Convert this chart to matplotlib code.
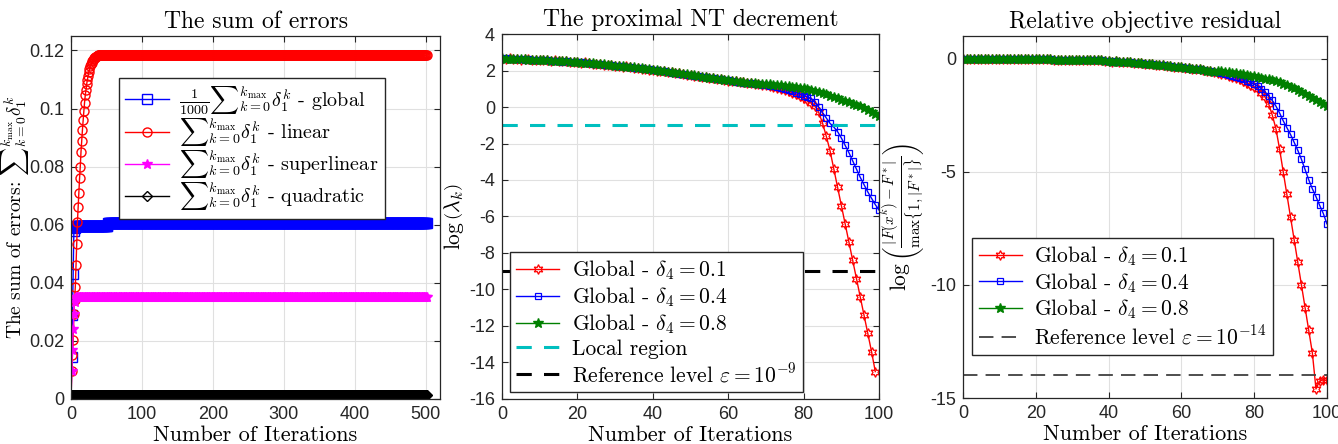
import numpy as np
import matplotlib
matplotlib.use('Agg')
import matplotlib.pyplot as plt

plt.rcParams['font.family'] = 'serif'
plt.rcParams['font.serif'] = ['cmr10']
plt.rcParams['mathtext.fontset'] = 'cm'
plt.rcParams['axes.unicode_minus'] = False
plt.rcParams['axes.formatter.use_mathtext'] = True

tick_font = 'Liberation Sans'

# ---------------- panel 1: sum of errors ----------------
n_iter1 = 502
global_rise = [0.0, 0.0145, 0.029, 0.043, 0.058, 0.0590, 0.0593]
global_mid, global_end, global_step_at = 0.0595, 0.0605, 52
linear_rise = [0.0, 0.0098, 0.0150, 0.0202, 0.0294, 0.0340, 0.0386, 0.0460, 0.0532,
               0.0610, 0.0660, 0.0708, 0.0760, 0.0800, 0.0850, 0.0890, 0.0925, 0.0960,
               0.0990, 0.1020, 0.1045, 0.1065, 0.1083, 0.1100, 0.1113, 0.1125, 0.1136,
               0.1145, 0.1152, 0.1158, 0.1163, 0.1168, 0.1172, 0.1175, 0.1177, 0.1179,
               0.1181, 0.1182]
linear_end = 0.1183
superlin_rise = [0.0, 0.0098, 0.0167, 0.0242, 0.0294, 0.0334, 0.0348]
superlin_end = 0.0352
quad_rise = [0.0, 0.0015]
quad_end = 0.0015

p1_xticks = [0, 100, 200, 300, 400, 500]
p1_yticks = [0, 0.02, 0.04, 0.06, 0.08, 0.1, 0.12]
p1_ylabels = ['0', '0.02', '0.04', '0.06', '0.08', '0.1', '0.12']

global_sum = (global_rise + [global_mid] * (global_step_at - len(global_rise))
              + [global_end] * (n_iter1 - global_step_at))
linear_sum = linear_rise + [linear_end] * (n_iter1 - len(linear_rise))
superlin_sum = superlin_rise + [superlin_end] * (n_iter1 - len(superlin_rise))
quad_sum = quad_rise + [quad_end] * (n_iter1 - len(quad_rise))

# ---------------- panel 2: proximal NT decrement ----------------
dec_01 = [2.65, 2.63, 2.66, 2.62, 2.64, 2.60, 2.63, 2.61, 2.58, 2.60,
          2.56, 2.58, 2.55, 2.53, 2.56, 2.52, 2.50, 2.52, 2.48, 2.46,
          2.45, 2.42, 2.44, 2.40, 2.37, 2.38, 2.34, 2.31, 2.32, 2.28,
          2.26, 2.24, 2.21, 2.22, 2.18, 2.15, 2.13, 2.10, 2.08, 2.05,
          2.03, 2.00, 1.98, 1.95, 1.92, 1.90, 1.86, 1.84, 1.80, 1.78,
          1.75, 1.72, 1.69, 1.66, 1.63, 1.60, 1.57, 1.54, 1.51, 1.48,
          1.45, 1.42, 1.40, 1.37, 1.35, 1.32, 1.30, 1.27, 1.25, 1.22,
          1.20, 1.15, 1.10, 1.05, 0.99, 0.93, 0.86, 0.78, 0.70, 0.60,
          0.48, 0.36, 0.22, 0.05, -0.30, -0.88, -1.6, -2.4, -3.4, -4.4,
          -5.4, -6.4, -7.4, -8.4, -9.4, -10.4, -11.4, -12.4, -13.4, -14.5]
dec_04 = [2.64, 2.66, 2.62, 2.65, 2.61, 2.63, 2.60, 2.62, 2.59, 2.57,
          2.58, 2.55, 2.57, 2.54, 2.51, 2.53, 2.49, 2.50, 2.47, 2.48,
          2.44, 2.45, 2.41, 2.42, 2.38, 2.36, 2.35, 2.32, 2.30, 2.29,
          2.25, 2.25, 2.22, 2.20, 2.19, 2.16, 2.12, 2.11, 2.07, 2.06,
          2.02, 2.01, 1.97, 1.96, 1.93, 1.89, 1.88, 1.83, 1.81, 1.77,
          1.76, 1.71, 1.70, 1.65, 1.64, 1.59, 1.58, 1.53, 1.52, 1.47,
          1.46, 1.43, 1.39, 1.38, 1.34, 1.33, 1.29, 1.28, 1.24, 1.23,
          1.21, 1.17, 1.13, 1.08, 1.03, 0.98, 0.92, 0.86, 0.79, 0.71,
          0.62, 0.55, 0.47, 0.25, 0.0, -0.30, -0.60, -0.90, -1.10, -1.35,
          -1.70, -2.10, -2.50, -2.95, -3.40, -3.85, -4.25, -4.65, -5.0, -5.35,
          -5.65]
dec_08 = [2.66, 2.64, 2.63, 2.64, 2.62, 2.61, 2.62, 2.60, 2.60, 2.58,
          2.57, 2.56, 2.56, 2.54, 2.53, 2.52, 2.51, 2.50, 2.49, 2.47,
          2.46, 2.43, 2.43, 2.41, 2.39, 2.37, 2.36, 2.33, 2.31, 2.30,
          2.27, 2.25, 2.23, 2.21, 2.19, 2.17, 2.14, 2.12, 2.09, 2.07,
          2.04, 2.02, 1.99, 1.97, 1.94, 1.91, 1.89, 1.85, 1.82, 1.79,
          1.77, 1.73, 1.71, 1.67, 1.65, 1.61, 1.59, 1.55, 1.53, 1.49,
          1.47, 1.44, 1.41, 1.39, 1.36, 1.34, 1.31, 1.30, 1.27, 1.26,
          1.25, 1.24, 1.22, 1.20, 1.18, 1.16, 1.13, 1.10, 1.08, 1.05,
          1.02, 0.97, 0.92, 0.86, 0.81, 0.76, 0.69, 0.62, 0.55, 0.47,
          0.40, 0.33, 0.26, 0.18, 0.10, 0.03, -0.08, -0.19, -0.30, -0.41,
          -0.52]
local_region = -1
ref_level2 = -9

p2_xticks = [0, 20, 40, 60, 80, 100]
p2_yticks = [-16, -14, -12, -10, -8, -6, -4, -2, 0, 2, 4]

# ---------------- panel 3: relative objective residual ----------------
res_common = [-0.02, 0.0, -0.01, -0.03, 0.0, -0.02, -0.01, 0.0, -0.02, -0.01,
              -0.01, -0.03, -0.02, 0.0, -0.01, -0.02, 0.0, -0.01, -0.03, -0.02,
              -0.01, -0.02, -0.01, -0.03, -0.02, -0.05, -0.06, -0.05, -0.07, -0.06,
              -0.06, -0.07, -0.08, -0.07, -0.06, -0.08, -0.07, -0.08, -0.07, -0.09,
              -0.12, -0.13, -0.12, -0.14, -0.15, -0.17, -0.16, -0.18, -0.20, -0.21,
              -0.22, -0.24, -0.25, -0.27, -0.28, -0.30, -0.31, -0.33, -0.35, -0.36,
              -0.38, -0.40, -0.42, -0.44, -0.46, -0.48, -0.50, -0.53, -0.55, -0.58]
res_01_tail = [-0.62, -0.66, -0.70, -0.75, -0.80, -0.86, -0.92, -0.99, -1.07, -1.16,
               -1.25, -1.35, -1.50, -1.70, -2.00, -2.50, -3.10, -4.00, -5.00, -6.00,
               -7.0, -8.0, -9.0, -10.0, -11.0, -12.0, -13.0, -14.6, -14.25, -14.2,
               -14.22]
res_04_tail = [-0.60, -0.63, -0.67, -0.71, -0.75, -0.80, -0.85, -0.91, -0.97, -1.04,
               -1.12, -1.22, -1.33, -1.47, -1.65, -1.85, -2.10, -2.40, -2.75, -3.05,
               -3.35, -3.70, -4.05, -4.45, -4.90, -5.35, -5.75, -6.10, -6.48, -6.84,
               -7.30]
res_08_tail = [-0.53, -0.55, -0.57, -0.59, -0.62, -0.64, -0.67, -0.70, -0.73, -0.76,
               -0.78, -0.81, -0.85, -0.88, -0.92, -0.96, -1.00, -1.05, -1.10, -1.17,
               -1.25, -1.32, -1.40, -1.48, -1.57, -1.66, -1.74, -1.83, -1.92, -2.01,
               -2.10]
ref_level3 = -14

p3_xticks = [0, 20, 40, 60, 80, 100]
p3_yticks = [-15, -10, -5, 0]

res_01 = res_common + res_01_tail
res_04 = res_common + res_04_tail
res_08 = res_common + res_08_tail

# ---------------- figure ----------------
fig = plt.figure(figsize=(13.38, 4.44), dpi=100)
ax1 = fig.add_axes([0.0531, 0.1014, 0.2758, 0.8176])
ax2 = fig.add_axes([0.3752, 0.1014, 0.2818, 0.8220])
ax3 = fig.add_axes([0.7197, 0.1036, 0.2720, 0.8153])

red, blue, green, mag = '#ff0000', '#0000ff', '#008000', '#ff00ff'
cyan = '#00bfbf'
star6 = (6, 1, 0)


def style(ax, xt, yt, ylab=None):
    ax.set_xticks(xt)
    ax.set_xticklabels([str(t) for t in xt], fontfamily=tick_font, fontsize=13)
    ax.set_yticks(yt)
    ax.set_yticklabels(ylab if ylab else [str(t) for t in yt],
                       fontfamily=tick_font, fontsize=13)
    ax.tick_params(direction='in', top=True, right=True, length=4,
                   width=0.8, pad=5, colors='#262626')
    ax.grid(True, color='#e0e0e0', lw=0.8)
    ax.set_axisbelow(True)
    for s in ax.spines.values():
        s.set_color('#262626')
        s.set_linewidth(0.9)


# panel 1
k1 = np.arange(n_iter1)
ax1.plot(k1, global_sum, '-s', color=blue, mfc='none', ms=6.5, mew=1, lw=1,
         label=r'$\frac{1}{1000}{\sum}_{k=0}^{k_{\max}}\delta_1^k$ - global')
ax1.plot(k1, linear_sum, '-o', color=red, mfc='none', ms=6.5, mew=1, lw=1,
         label=r'${\sum}_{k=0}^{k_{\max}}\delta_1^k$ - linear')
ax1.plot(k1, superlin_sum, '-*', color=mag, ms=7.5, lw=1,
         label=r'${\sum}_{k=0}^{k_{\max}}\delta_1^k$ - superlinear')
ax1.plot(k1, quad_sum, '-D', color='k', mfc='none', ms=5.5, mew=1, lw=1,
         label=r'${\sum}_{k=0}^{k_{\max}}\delta_1^k$ - quadratic')
ax1.set_xlim(0, 520)
ax1.set_ylim(0, 0.125)
style(ax1, p1_xticks, p1_yticks, p1_ylabels)
ax1.set_title('The sum of errors', fontsize=17)
ax1.set_xlabel('Number of Iterations', fontsize=16, labelpad=2)
ax1.set_ylabel(r'The sum of errors: ${\sum}_{k=0}^{k_{\max}}\delta_1^k$',
               fontsize=14, labelpad=-2)
ax1.legend(loc='upper left', bbox_to_anchor=(0.13, 0.885), fontsize=14.5,
           fancybox=False, framealpha=1, edgecolor='#262626', labelspacing=0.0,
           handlelength=2.2, handletextpad=0.5, borderpad=0.3, borderaxespad=0)

# panel 2
ax2.plot(np.arange(len(dec_01)), dec_01, '-', marker=star6, color=red, mfc='none',
         ms=7, mew=0.9, lw=1, label=r'Global - $\delta_4 = 0.1$')
ax2.plot(np.arange(len(dec_04)), dec_04, '-s', color=blue, mfc='none',
         ms=5, mew=0.9, lw=1, label=r'Global - $\delta_4 = 0.4$')
ax2.plot(np.arange(len(dec_08)), dec_08, '-*', color=green,
         ms=7, lw=1, label=r'Global - $\delta_4 = 0.8$')
ax2.plot([0, 100], [local_region] * 2, '--', color=cyan, lw=2.2, dashes=(5, 4),
         label='Local region')
ax2.plot([0, 100], [ref_level2] * 2, '--', color='k', lw=2.2, dashes=(5, 4),
         label=r'Reference level $\varepsilon = 10^{-9}$')
ax2.set_xlim(0, 100)
ax2.set_ylim(-16, 4)
style(ax2, p2_xticks, p2_yticks)
ax2.set_title('The proximal NT decrement', fontsize=17)
ax2.set_xlabel('Number of Iterations', fontsize=16, labelpad=2)
ax2.set_ylabel(r'$\log\left(\lambda_k\right)$', fontsize=15.5, labelpad=2)
ax2.legend(loc='lower left', bbox_to_anchor=(0.021, 0.019), fontsize=15.5,
           fancybox=False, framealpha=1, edgecolor='#262626', labelspacing=0.15,
           handlelength=2.0, handletextpad=0.6, borderpad=0.3, borderaxespad=0)

# panel 3
ax3.plot(np.arange(len(res_01)), res_01, '-', marker=star6, color=red, mfc='none',
         ms=7, mew=0.9, lw=1, label=r'Global - $\delta_4 = 0.1$')
ax3.plot(np.arange(len(res_04)), res_04, '-s', color=blue, mfc='none',
         ms=5, mew=0.9, lw=1, label=r'Global - $\delta_4 = 0.4$')
ax3.plot(np.arange(len(res_08)), res_08, '-*', color=green,
         ms=7, lw=1, label=r'Global - $\delta_4 = 0.8$')
ax3.plot([0, 100], [ref_level3] * 2, '--', color='#404040', lw=1.3, dashes=(8, 4.5),
         label=r'Reference level $\varepsilon = 10^{-14}$')
ax3.set_xlim(0, 100)
ax3.set_ylim(-15, 1)
style(ax3, p3_xticks, p3_yticks)
ax3.set_title('Relative objective residual', fontsize=17)
ax3.set_xlabel('Number of Iterations', fontsize=16, labelpad=2)
ax3.set_ylabel(r'$\log\left(\frac{|F(x^k)-F^*|}{\max\{1,|F^*|\}}\right)$',
               fontsize=15.5, labelpad=2)
ax3.legend(loc='lower left', bbox_to_anchor=(0.025, 0.119), fontsize=15.5,
           fancybox=False, framealpha=1, edgecolor='#262626', labelspacing=0.15,
           handlelength=2.0, handletextpad=0.6, borderpad=0.3, borderaxespad=0)

fig.savefig('out.png', dpi=100)
